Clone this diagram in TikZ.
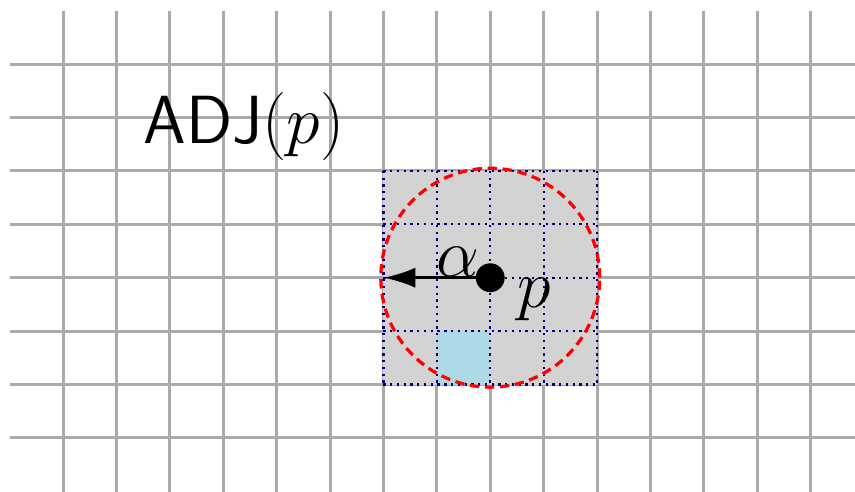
\RequirePackage{fix-cm}
\documentclass[tikz,border=0pt]{standalone}
\usetikzlibrary{arrows.meta}
\definecolor{gridgray}{RGB}{170,170,170}
\definecolor{cellgray}{RGB}{211,211,211}
\definecolor{cellblue}{RGB}{173,216,230}
\begin{document}
\begin{tikzpicture}[
  gridline/.style={draw=gridgray, line width=1.6pt},
  dotline/.style={draw=blue!50!black, line width=1.2pt, dash pattern=on 1.2pt off 2.4pt},
  circ/.style={draw=red, line width=1.7pt, dash pattern=on 5pt off 3pt},
  bigtext/.style={font=\fontsize{36.3}{43}\selectfont, inner sep=0pt}
]
\useasboundingbox (-0.18,0.2) rectangle (15.83,-9.0);
\clip (-0.18,0.2) rectangle (15.83,-9.0);
% background grid
\foreach \y in {1,...,8} \draw[gridline] (0,-\y) -- (16,-\y);
\foreach \x in {1,...,15} \draw[gridline] (\x,0) -- (\x,-9.2);
% neighbourhood
\fill[cellgray] (7,-3) rectangle (11,-7);
\fill[cellblue] (8,-7) rectangle (9,-6);
\foreach \x in {7,...,11} \draw[dotline] (\x,-3) -- (\x,-7);
\foreach \y in {3,...,7} \draw[dotline] (7,-\y) -- (11,-\y);
\coordinate (p) at (9,-5);
\coordinate (tip) at (7,-5);
\draw[circ] (p) circle (2.05);
\draw[line width=1.6pt, -{Latex[length=0.6cm,width=0.38cm]}] (p) -- (tip);
\node[circle, fill=black, inner sep=0pt, minimum size=0.54cm] (dot) at (p) {};
\node[bigtext, anchor=base] (alpha) at (8.39,-4.97) {$\alpha$};
\node[bigtext, anchor=base west] (plabel) at (9.5,-5.55) {$p$};
\node[bigtext, anchor=base west] (adj) at (2.5,-2.48) {\textsf{ADJ}$(p)$};
\end{tikzpicture}
\end{document}
